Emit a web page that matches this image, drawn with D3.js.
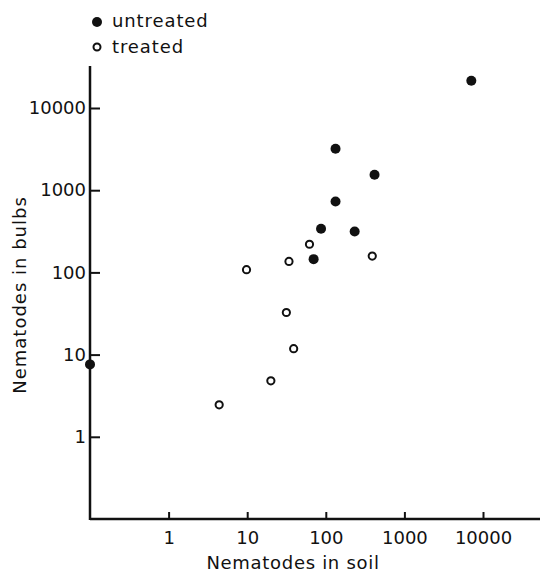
<!DOCTYPE html>
<html>
<head>
<meta charset="utf-8">
<script src="https://cdn.jsdelivr.net/npm/d3@7"></script>
<style>
  body { margin: 0; background: #fff; }
  text { font-family: "DejaVu Sans", sans-serif; fill: #111; }
</style>
</head>
<body>
<svg id="chart" width="540" height="574"></svg>
<script>
// values (log-log plot)
const untreatedSoil = [7100, 133, 417, 133, 87, 233, 70, 0];
const untreatedBulbs = [21500, 3200, 1540, 730, 340, 315, 145, 7.6];
const treatedSoil = [62, 34, 390, 9.8, 31.5, 39, 20, 4.4];
const treatedBulbs = [220, 136, 158, 108, 32.5, 11.8, 4.8, 2.45];
const tickValues = [1, 10, 100, 1000, 10000];
const legendLabels = ['untreated', 'treated'];

const svg = d3.select('#chart');
const W = 540, H = 574;

let x = d3.scaleLog().domain([0.1, 10000]).range([90, 483]);
let y = d3.scaleLog().domain([0.1, 10000]).range([519, 108]);

// axis lines run past the last tick like the original
svg.append('line')
  .attr('x1', x(0.1)).attr('x2', W)
  .attr('y1', y(0.1)).attr('y2', y(0.1))
  .style('stroke', '#111').style('stroke-width', 2.5);
svg.append('line')
  .attr('x1', x(0.1)).attr('x2', x(0.1))
  .attr('y1', y(0.1) + 1).attr('y2', 66)
  .style('stroke', '#111').style('stroke-width', 2.5);

let xAxis = d3.axisBottom(x).tickValues(tickValues).tickFormat(d3.format('d'))
  .tickSize(-7).tickPadding(12);
let gx = svg.append('g').attr('transform', `translate(0, ${y(0.1)})`).call(xAxis);

let yAxis = d3.axisLeft(y).tickValues(tickValues).tickFormat(d3.format('d'))
  .tickSize(-10).tickPadding(4);
let gy = svg.append('g').attr('transform', `translate(${x(0.1)}, 0)`).call(yAxis);

[gx, gy].forEach(g => {
  g.select('.domain').remove();
  g.selectAll('.tick line').style('stroke', '#111').style('stroke-width', 2);
  g.selectAll('.tick text')
    .style('font-family', '"DejaVu Sans", sans-serif')
    .style('font-size', '18px')
    .style('fill', '#111');
});

// axis titles
svg.append('text')
  .attr('x', 293).attr('y', 569)
  .attr('text-anchor', 'middle')
  .style('font-size', '18px')
  .style('letter-spacing', '0.7px')
  .text('Nematodes in soil');

svg.append('text')
  .attr('transform', 'translate(26, 295) rotate(-90)')
  .attr('text-anchor', 'middle')
  .style('font-size', '18px')
  .style('letter-spacing', '1px')
  .text('Nematodes in bulbs');

// points
let treated = treatedSoil.map((s, i) => ({ s: s, b: treatedBulbs[i] }));
let untreated = untreatedSoil.map((s, i) => ({ s: s, b: untreatedBulbs[i] }));

svg.append('g').selectAll('circle')
  .data(treated)
  .join('circle')
  .attr('cx', d => x(Math.max(d.s, 0.1)))
  .attr('cy', d => y(d.b))
  .attr('r', 3.6)
  .style('fill', 'none')
  .style('stroke', '#111')
  .style('stroke-width', 2);

svg.append('g').selectAll('circle')
  .data(untreated)
  .join('circle')
  .attr('cx', d => x(Math.max(d.s, 0.1)))
  .attr('cy', d => y(d.b))
  .attr('r', 5)
  .style('fill', '#111');

// legend
let legend = svg.append('g');
legend.append('circle').attr('cx', 97).attr('cy', 22).attr('r', 5).style('fill', '#111');
legend.append('circle').attr('cx', 97).attr('cy', 47).attr('r', 3.5)
  .style('fill', 'none').style('stroke', '#111').style('stroke-width', 2);
legend.selectAll('text')
  .data(legendLabels)
  .join('text')
  .attr('x', 112)
  .attr('y', (d, i) => 27 + i * 26)
  .style('font-size', '18px')
  .style('letter-spacing', '0.9px')
  .text(d => d);
</script>
</body>
</html>
